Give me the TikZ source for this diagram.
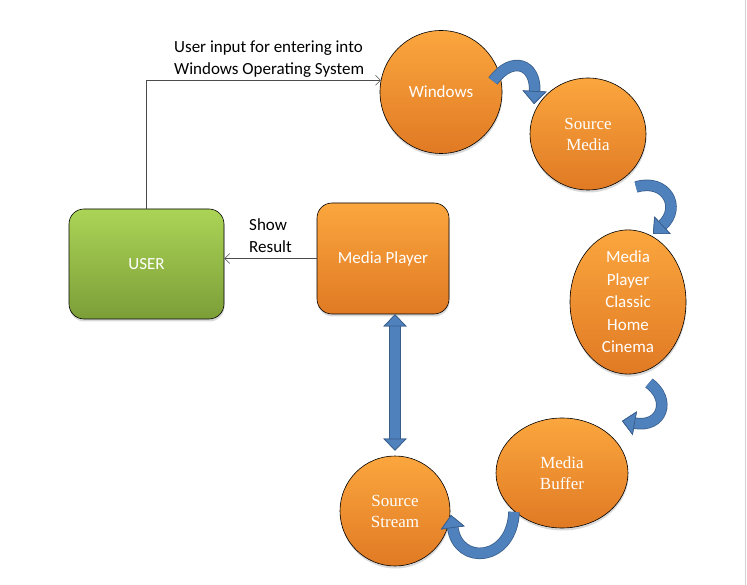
\documentclass[tikz,border=0pt]{standalone}
\usepackage{fontspec}
\setmainfont{Carlito}
\newfontfamily\timesface{Liberation Serif}
\usetikzlibrary{shapes.geometric, arrows.meta, positioning, shadows}
\definecolor{dfdorangetop}{RGB}{251,166,62}
\definecolor{dfdorangebot}{RGB}{224,122,36}
\definecolor{dfdgreentop}{RGB}{171,212,86}
\definecolor{dfdgreenbot}{RGB}{124,158,56}
\definecolor{dfdblue}{RGB}{79,129,189}
\definecolor{dfdblueline}{RGB}{56,93,138}

\begin{document}
\begin{tikzpicture}[x=1pt, y=-1pt,
  font=\fontsize{17}{22}\selectfont,
  every node/.style={inner sep=0pt},
  dfdshadow/.style={drop shadow={shadow xshift=0.5pt, shadow yshift=-2.5pt, opacity=0.3}},
  dfdbox/.style={rectangle, rounded corners=15pt, draw=black, line width=0.6pt,
    top color=dfdorangetop, bottom color=dfdorangebot, text=white,
    minimum width=132pt, minimum height=111pt, dfdshadow},
  userbox/.style={dfdbox, top color=dfdgreentop, bottom color=dfdgreenbot,
    minimum width=155pt, minimum height=110pt},
  dfdproc/.style={ellipse, draw=black, line width=0.6pt,
    top color=dfdorangetop, bottom color=dfdorangebot, text=white,
    align=center, dfdshadow},
  lbl/.style={align=left, text=black},
  conn/.style={draw=black!70, line width=0.5pt, -{Straight Barb[length=5pt,width=10pt]}},
  bluetip/.tip={Triangle[width=24pt,length=13pt,line width=0.7pt,fill=dfdblue,color=dfdblueline]},
  vtip/.tip={Triangle[width=23pt,length=12pt,line width=0.7pt,fill=dfdblue,color=dfdblueline]},
  bluearc/.style={line width=10pt, draw=dfdblue, -{bluetip},
    preaction={draw=dfdblueline, line width=11.5pt, -{bluetip}}}
]
\useasboundingbox (0,0) rectangle (747,585);
\draw[gray!35] (745.5,0) -- (745.5,585);

% Boxes
\node[userbox] (user) at (146.5,264) {USER};
\node[dfdbox] (mplayer) at (383,258.5) {Media Player};

% Processes
\node[dfdproc, minimum width=122pt, minimum height=123pt] (win) at (441,92) {Windows};
\node[dfdproc, minimum width=116pt, minimum height=112pt, font=\fontsize{17}{21}\timesface] (srcmedia) at (588,134) {Source\\Media};
\node[dfdproc, minimum width=116pt, minimum height=124pt, font=\fontsize{17}{22.5}\selectfont] (mpc) at (628,302) {Media\\Player\\Classic\\Home\\Cinema};
\node[dfdproc, minimum width=132pt, minimum height=110pt, font=\fontsize{17}{21}\timesface] (mbuffer) at (562,473) {Media\\Buffer};
\node[dfdproc, minimum width=110pt, minimum height=110pt, font=\fontsize{17}{21}\timesface] (srcstream) at (395,511) {Source\\Stream};

% Labels
\node[lbl, anchor=south west] (inlbl) at (174,77.5) {User input for entering into\\Windows Operating System};
\node[lbl, anchor=south west] (showlbl) at (249,253) {Show\\Result};

% Connectors
\draw[conn] (user.north) |- (win.169);
\draw[conn] (mplayer.west) -- (user.east |- mplayer.west);

% Curved arrows
\draw[bluearc] (493,81) .. controls (512,55) and (536,64) .. (534,104);
\draw[bluearc] (636,187) .. controls (666,178) and (682,207) .. (653,234);
\draw[bluearc] (649,383) .. controls (672,400) and (662,428) .. (622,421);
\draw[bluearc] (514,512) .. controls (512,562) and (458,566) .. (451,515);

% Double arrow
\draw[line width=10pt, draw=dfdblue, shorten >=5pt, {vtip}-{vtip},
  preaction={draw=dfdblueline, line width=11.5pt, shorten >=5pt, {vtip}-{vtip}}]
  (srcstream.north |- mplayer.south) -- (srcstream.north);
\end{tikzpicture}
\end{document}
